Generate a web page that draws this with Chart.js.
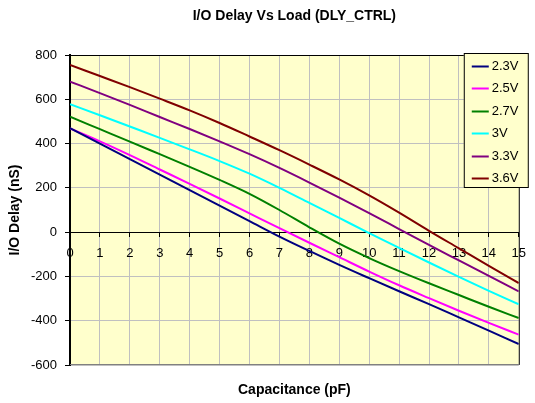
<!DOCTYPE html>
<html>
<head>
<meta charset="utf-8">
<script src="https://cdn.jsdelivr.net/npm/chart.js@4.4.1/dist/chart.umd.min.js"></script>
<style>
  html, body { margin: 0; padding: 0; background: #fff; }
  #wrap { width: 535px; height: 403px; }
</style>
</head>
<body>
<div id="wrap"><canvas id="delayChart" width="535" height="403"></canvas></div>
<script>
const capacitance = [0, 1, 2, 3, 4, 5, 6, 7, 8, 9, 10, 11, 12, 13, 14, 15]
const seriesNames = ['2.3V', '2.5V', '2.7V', '3V', '3.3V', '3.6V']
const v23 = [470, 400, 330, 260, 190, 120, 50, -20, -85, -148, -208, -267, -325, -385, -445, -505]
const v25 = [468, 410, 348, 283, 218, 152, 85, 18, -48, -113, -178, -240, -298, -355, -410, -463]
const v27 = [521, 465, 409, 352, 295, 236, 173, 100, 22, -52, -117, -176, -231, -284, -337, -388]
const v30 = [578, 528, 477, 426, 374, 321, 264, 200, 132, 64, -4, -71, -137, -202, -265, -326]
const v33 = [680, 628, 575, 520, 466, 410, 352, 290, 224, 156, 86, 14, -58, -128, -198, -268]
const v36 = [755, 705, 655, 603, 550, 493, 432, 370, 305, 238, 166, 88, 6, -73, -152, -230]
const yTicks = [-600, -400, -200, 0, 200, 400, 600, 800]

const colors = ['#000080', '#FF00FF', '#008000', '#00FFFF', '#800080', '#800000']
const FONT = "'Liberation Sans', Arial, sans-serif"

// yellow plot background
const plotBg = {
    id: 'plotBg',
    beforeDraw(chart) {
        const {ctx, chartArea: a} = chart
        ctx.save()
        ctx.fillStyle = '#FFFFCC'
        ctx.fillRect(a.left, a.top, a.right - a.left, a.bottom - a.top)
        ctx.restore()
    }
}

// plot border top/right/bottom (left is the y axis)
const plotBorder = {
    id: 'plotBorder',
    beforeDatasetsDraw(chart) {
        const {ctx, chartArea: a} = chart
        ctx.save()
        ctx.lineWidth = 1
        ctx.strokeStyle = '#000'
        ctx.beginPath()
        ctx.moveTo(a.left, a.top + 0.5)
        ctx.lineTo(a.right + 0.5, a.top + 0.5)
        ctx.lineTo(a.right + 0.5, a.bottom)
        ctx.stroke()
        ctx.strokeStyle = '#808080'
        ctx.beginPath()
        ctx.moveTo(a.left, a.bottom - 0.5)
        ctx.lineTo(a.right + 0.5, a.bottom - 0.5)
        ctx.stroke()
        ctx.restore()
    }
}

// boxed legend in the top right corner
const boxLegend = {
    id: 'boxLegend',
    afterDatasetsDraw(chart) {
        const {ctx, chartArea: a} = chart
        const x = a.right - 55
        const y = a.top - 2
        const w = 65
        const h = 135
        ctx.save()
        ctx.fillStyle = '#FFFFCC'
        ctx.fillRect(x, y, w, h)
        ctx.strokeStyle = '#000'
        ctx.lineWidth = 1
        ctx.strokeRect(x + 0.5, y + 0.5, w - 1, h - 1)
        ctx.font = '13px ' + FONT
        ctx.textBaseline = 'middle'
        ctx.textAlign = 'left'
        chart.data.datasets.forEach((ds, i) => {
            const cy = Math.round(y + 12.7 + i * 22.5) + 0.5
            ctx.strokeStyle = ds.borderColor
            ctx.lineWidth = 2
            ctx.beginPath()
            ctx.moveTo(x + 8, cy)
            ctx.lineTo(x + 25, cy)
            ctx.stroke()
            ctx.fillStyle = '#000'
            ctx.fillText(ds.label, x + 28, cy)
        })
        ctx.restore()
    }
}

const toPoints = (values) => values.map((v, i) => ({x: capacitance[i], y: v}))

const drawChart = () => {
    const allSeries = [v23, v25, v27, v30, v33, v36]
    const datasets = allSeries.map((values, i) => ({
        label: seriesNames[i],
        data: toPoints(values),
        borderColor: colors[i],
        backgroundColor: colors[i],
        borderWidth: 2,
        pointRadius: 0,
        cubicInterpolationMode: 'monotone',
        fill: false
    }))

    new Chart('delayChart', {
        type: 'line',
        data: {datasets: datasets},
        options: {
            responsive: false,
            animation: false,
            events: [],
            layout: {padding: {left: 0, right: 14, top: 0, bottom: 0}},
            plugins: {
                legend: {display: false},
                tooltip: {enabled: false},
                title: {
                    display: true,
                    text: 'I/O Delay Vs Load (DLY_CTRL)',
                    color: '#000',
                    fullSize: false,
                    font: {family: FONT, size: 14, weight: 'bold'},
                    padding: {top: 7.6, bottom: 30.6}
                },
                subtitle: {
                    display: true,
                    position: 'bottom',
                    text: 'Capacitance (pF)',
                    color: '#000',
                    fullSize: false,
                    font: {family: FONT, size: 14, weight: 'bold'},
                    padding: {top: 16.6, bottom: 4.6}
                }
            },
            scales: {
                x: {
                    type: 'linear',
                    position: {y: 0},
                    min: capacitance[0],
                    max: capacitance[capacitance.length - 1],
                    afterBuildTicks: (scale) => {
                        scale.ticks = capacitance.map(v => ({value: v}))
                    },
                    ticks: {
                        color: '#000',
                        font: {family: FONT, size: 13},
                        padding: 9,
                        maxRotation: 0,
                        autoSkip: false
                    },
                    grid: {
                        color: (c) => (c.tick && (c.tick.value === 0 || c.tick.value === 15)) ? 'rgba(0,0,0,0)' : '#C0C0C0',
                        tickColor: '#000',
                        tickLength: 4,
                        lineWidth: 1
                    },
                    border: {display: true, color: '#000', width: 1}
                },
                y: {
                    type: 'linear',
                    position: 'left',
                    min: yTicks[0],
                    max: yTicks[yTicks.length - 1],
                    afterBuildTicks: (scale) => {
                        scale.ticks = yTicks.map(v => ({value: v}))
                    },
                    afterFit: (scale) => {
                        scale.width = 70
                    },
                    ticks: {
                        color: '#000',
                        font: {family: FONT, size: 13},
                        padding: 8
                    },
                    grid: {
                        color: (c) => (c.tick && c.tick.value === 0) ? 'rgba(0,0,0,0)' : '#C0C0C0',
                        tickColor: '#000',
                        tickLength: 5,
                        lineWidth: 1
                    },
                    border: {display: true, color: '#000', width: 2},
                    title: {
                        display: true,
                        text: 'I/O Delay (nS)',
                        color: '#000',
                        font: {family: FONT, size: 14, weight: 'bold'},
                        padding: {top: 6.6, bottom: 0}
                    }
                }
            }
        },
        plugins: [plotBg, plotBorder, boxLegend]
    })
}

drawChart()
</script>
</body>
</html>
